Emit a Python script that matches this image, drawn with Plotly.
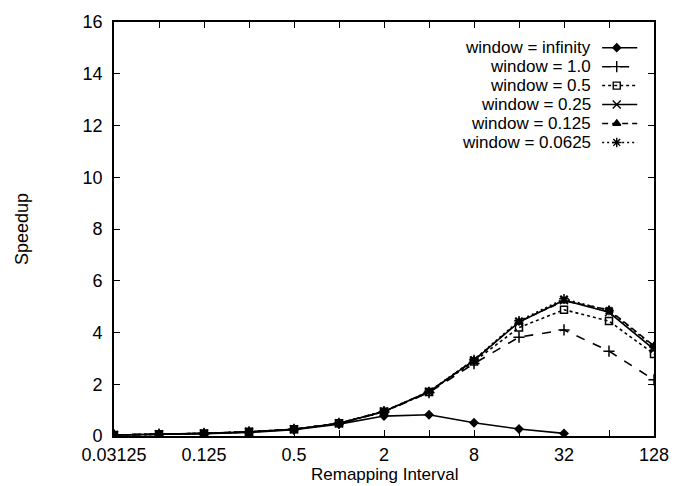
import math
import plotly.graph_objects as go

# ---- data ----
intervals = [0.03125, 0.0625, 0.125, 0.25, 0.5, 1, 2, 4, 8, 16, 32, 64, 128]
tick_vals = [0.03125, 0.0625, 0.125, 0.25, 0.5, 1, 2, 4, 8, 16, 32, 64, 128]
tick_text = ["0.03125", "", "0.125", "", "0.5", "", "2", "", "8", "", "32", "", "128"]

series_names = ["window = infinity", "window = 1.0", "window = 0.5",
                "window = 0.25", "window = 0.125", "window = 0.0625"]
w_inf = [0.04, 0.06, 0.09, 0.14, 0.24, 0.46, 0.77, 0.82, 0.51, 0.27, 0.10]
w_1 = [0.04, 0.07, 0.10, 0.16, 0.26, 0.49, 0.93, 1.68, 2.80, 3.82, 4.10, 3.28, 2.17]
w_05 = [0.04, 0.07, 0.10, 0.16, 0.26, 0.49, 0.94, 1.70, 2.88, 4.19, 4.88, 4.44, 3.17]
w_025 = [0.04, 0.07, 0.10, 0.16, 0.26, 0.49, 0.95, 1.71, 2.92, 4.40, 5.25, 4.78, 3.35]
w_0125 = [0.04, 0.07, 0.10, 0.16, 0.26, 0.49, 0.95, 1.71, 2.93, 4.42, 5.22, 4.88, 3.48]
w_00625 = [0.04, 0.07, 0.10, 0.16, 0.26, 0.49, 0.96, 1.72, 2.95, 4.45, 5.30, 4.85, 3.45]
series_values = [w_inf, w_1, w_05, w_025, w_0125, w_00625]

x_title = "Remapping Interval"
y_title = "Speedup"

# ---- styles ----
dashes = ["solid", "dash", "dot", "solid", "6px,4px", "2px,3px"]
symbols = ["diamond", "cross-thin", "square-open", "x-thin", "triangle-up", "asterisk"]
msizes = [6, 8, 7, 8, 7, 8]

FONT = "Liberation Sans, Arial, sans-serif"
fig = go.Figure()

for name, vals, dsh, sym, ms in zip(series_names, series_values, dashes, symbols, msizes):
    fig.add_trace(go.Scatter(
        x=intervals[:len(vals)], y=vals, mode="lines+markers", name=name,
        line=dict(color="black", width=1.6, dash=dsh),
        marker=dict(symbol=sym, size=ms, color="black",
                    line=dict(color="black", width=1.5)),
        showlegend=False, xaxis="x", yaxis="y"))

# custom legend (text on the left, sample on the right) drawn on an overlay axis
leg_top, leg_step = 0.938, 0.0458
for i, (name, dsh, sym, ms) in enumerate(zip(series_names, dashes, symbols, msizes)):
    ly = leg_top - i * leg_step
    fig.add_trace(go.Scatter(
        x=[0.904, 0.969], y=[ly, ly], mode="lines",
        line=dict(color="black", width=1.5, dash=dsh),
        showlegend=False, hoverinfo="skip", xaxis="x2", yaxis="y2"))
    fig.add_trace(go.Scatter(
        x=[0.931], y=[ly], mode="markers",
        marker=dict(symbol=sym, size=ms, color="black",
                    line=dict(color="black", width=1.4)),
        showlegend=False, hoverinfo="skip", xaxis="x2", yaxis="y2"))
    fig.add_annotation(x=0.885, y=ly, xref="paper", yref="paper", text=name,
                       showarrow=False, xanchor="right", yanchor="middle",
                       borderpad=0,
                       font=dict(family=FONT, size=17, color="black"))

fig.add_annotation(x=0.5, y=0, xref="paper", yref="paper", text=x_title,
                   showarrow=False, xanchor="center", yanchor="middle", yshift=-38,
                   borderpad=0, font=dict(family=FONT, size=17, color="black"))

fig.update_layout(
    width=688, height=486,
    margin=dict(l=114, r=34, t=16, b=50),
    paper_bgcolor="white", plot_bgcolor="white",
    font=dict(family=FONT, size=18, color="black"),
    xaxis=dict(type="log", range=[math.log10(0.03125), math.log10(128)],
               tickvals=tick_vals, ticktext=tick_text,
               ticks="inside", ticklen=6, tickwidth=1.3, tickcolor="black",
               showline=True, linecolor="black", linewidth=1.8, mirror="ticks",
               showgrid=False, zeroline=False, ticklabelstandoff=1),
    yaxis=dict(range=[0, 16], dtick=2, tickmode="linear", tick0=0,
               ticks="inside", ticklen=6, tickwidth=1.3, tickcolor="black",
               showline=True, linecolor="black", linewidth=1.8, mirror="ticks",
               showgrid=False, zeroline=False, ticklabelstandoff=6,
               title=dict(text=y_title, standoff=49,
                          font=dict(family=FONT, size=18))),
    xaxis2=dict(overlaying="x", range=[0, 1], visible=False, fixedrange=True),
    yaxis2=dict(overlaying="y", range=[0, 1], visible=False, fixedrange=True),
    showlegend=False,
)

fig.write_html("out.html", config={"displayModeBar": False},
               post_script="document.body.style.margin='0';document.body.style.overflow='hidden';")
